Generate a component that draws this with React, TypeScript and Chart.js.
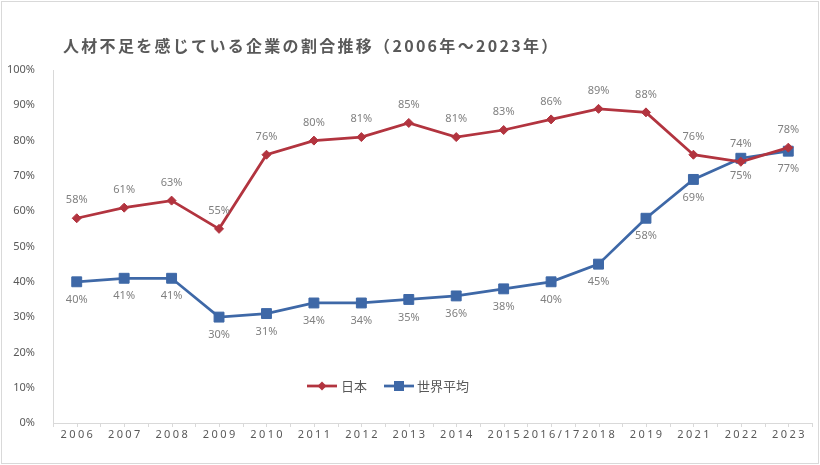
import React, { useEffect, useRef } from "react";
import { Chart, registerables } from "chart.js";

Chart.register(...registerables);

const categories = ["2006", "2007", "2008", "2009", "2010", "2011", "2012", "2013", "2014", "2015", "2016/17", "2018", "2019", "2021", "2022", "2023"];
const japanValues = [58, 61, 63, 55, 76, 80, 81, 85, 81, 83, 86, 89, 88, 76, 74, 78];
const worldValues = [40, 41, 41, 30, 31, 34, 34, 35, 36, 38, 40, 45, 58, 69, 75, 77];
const seriesNames = ["日本", "世界平均"];
const titleText = "人材不足を感じている企業の割合推移（2006年～2023年）";

const RED = "#B2343F";
const BLUE = "#3E68A7";
const AXIS = "#d9d9d9";
const TEXT = "#595959";
const LABEL = "#808080";
const JP = "'Noto Sans CJK JP', 'Noto Sans', sans-serif";
const LAT = "'Noto Sans', 'Noto Sans CJK JP', sans-serif";

const customPlugin = {
  id: "customDraw",
  afterDraw(chart: any) {
    const ctx: CanvasRenderingContext2D = chart.ctx;
    const xs = chart.scales.x;
    const ys = chart.scales.y;
    const area = chart.chartArea;

    // frame
    ctx.save();
    ctx.strokeStyle = AXIS;
    ctx.lineWidth = 1;
    ctx.strokeRect(1.5, 1.5, 817, 462);
    ctx.restore();

    // title
    ctx.save();
    (ctx as any).letterSpacing = "2.3px";
    ctx.font = `bold 16px ${JP}`;
    ctx.fillStyle = TEXT;
    ctx.textAlign = "left";
    ctx.textBaseline = "middle";
    ctx.fillText(titleText, 63, 46);
    ctx.restore();

    // x tick marks
    ctx.save();
    ctx.strokeStyle = AXIS;
    ctx.lineWidth = 1;
    const n = categories.length * 2;
    for (let i = 0; i <= n; i++) {
      const x = Math.round(area.left + (i * (area.right - area.left)) / n) + 0.5;
      ctx.beginPath();
      ctx.moveTo(x, area.bottom);
      ctx.lineTo(x, area.bottom + 4);
      ctx.stroke();
    }
    ctx.restore();

    // x labels
    ctx.save();
    const sp = 2.4;
    (ctx as any).letterSpacing = sp + "px";
    ctx.font = `11px ${LAT}`;
    ctx.fillStyle = TEXT;
    ctx.textAlign = "center";
    ctx.textBaseline = "middle";
    categories.forEach((c, i) => {
      ctx.fillText(c, xs.getPixelForValue(i) + sp / 2, area.bottom + 12);
    });
    ctx.restore();

    // data labels
    ctx.save();
    ctx.font = `11px ${LAT}`;
    ctx.fillStyle = LABEL;
    ctx.textAlign = "center";
    ctx.textBaseline = "middle";
    japanValues.forEach((v, i) => {
      ctx.fillText(v + "%", xs.getPixelForValue(i), ys.getPixelForValue(v) - 18);
    });
    worldValues.forEach((v, i) => {
      ctx.fillText(v + "%", xs.getPixelForValue(i), ys.getPixelForValue(v) + 18);
    });
    ctx.restore();

    // legend
    ctx.save();
    const ly = 386;
    ctx.lineWidth = 2.75;
    ctx.strokeStyle = RED;
    ctx.beginPath();
    ctx.moveTo(307, ly);
    ctx.lineTo(337, ly);
    ctx.stroke();
    ctx.fillStyle = RED;
    ctx.beginPath();
    ctx.moveTo(322, ly - 4.5);
    ctx.lineTo(326.5, ly);
    ctx.lineTo(322, ly + 4.5);
    ctx.lineTo(317.5, ly);
    ctx.closePath();
    ctx.fill();
    ctx.strokeStyle = BLUE;
    ctx.beginPath();
    ctx.moveTo(384, ly);
    ctx.lineTo(414, ly);
    ctx.stroke();
    ctx.fillStyle = BLUE;
    ctx.fillRect(399 - 5, ly - 5, 10, 10);
    ctx.font = `13px ${JP}`;
    ctx.fillStyle = TEXT;
    ctx.textAlign = "left";
    ctx.textBaseline = "middle";
    ctx.fillText(seriesNames[0], 341, ly);
    ctx.fillText(seriesNames[1], 417, ly);
    ctx.restore();
  },
};

export default function App() {
  const ref = useRef<HTMLCanvasElement | null>(null);

  useEffect(() => {
    document.body.style.margin = "0";
    if (!ref.current) return;
    const chart = new Chart(ref.current, {
      type: "line",
      data: {
        labels: categories,
        datasets: [
          {
            label: seriesNames[0],
            data: japanValues,
            borderColor: RED,
            backgroundColor: RED,
            borderWidth: 2.75,
            pointStyle: "rectRot",
            pointRadius: 4.5,
            pointBorderWidth: 1,
            tension: 0,
          },
          {
            label: seriesNames[1],
            data: worldValues,
            borderColor: BLUE,
            backgroundColor: BLUE,
            borderWidth: 2.75,
            pointStyle: "rect",
            pointRadius: 7,
            pointBorderWidth: 1,
            tension: 0,
          },
        ],
      },
      options: {
        responsive: false,
        animation: false,
        layout: { padding: { top: 70, right: 8, left: 0, bottom: 0 } },
        plugins: {
          legend: { display: false },
          title: { display: false },
          tooltip: { enabled: false },
        },
        scales: {
          x: {
            offset: true,
            grid: { display: false },
            border: { display: true, color: AXIS, width: 1 },
            ticks: { display: false },
            afterFit: (s: any) => {
              s.height = 42;
            },
          },
          y: {
            min: 0,
            max: 100,
            ticks: {
              stepSize: 10,
              callback: (v: any) => v + "%",
              color: TEXT,
              font: { size: 11, family: LAT },
              padding: 10,
            },
            grid: { display: false },
            border: { display: true, color: AXIS, width: 1 },
            afterFit: (s: any) => {
              s.width = 53;
            },
          },
        },
      },
      plugins: [customPlugin],
    });
    return () => chart.destroy();
  }, []);

  return (
    <div style={{ width: 820, height: 465, position: "relative", background: "#fff" }}>
      <canvas ref={ref} width={820} height={465} style={{ display: "block" }} />
    </div>
  );
}
